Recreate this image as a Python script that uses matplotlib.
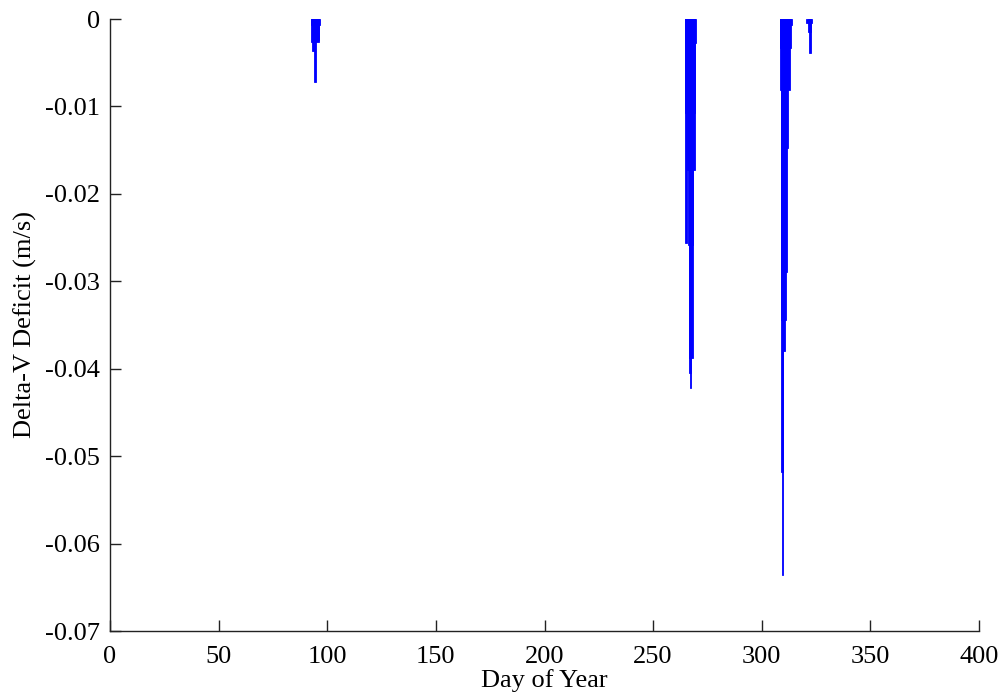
import matplotlib
matplotlib.use("Agg")
import matplotlib.pyplot as plt

# Envelope of the delta-V deficit spikes: (start day, end day, deficit m/s)
seg_start = [92.3, 92.3, 93.2, 94.0, 94.8,
             264.7, 264.7, 265.4, 264.9, 266.2, 266.4, 266.4, 266.8,
             308.3, 308.3, 308.3, 309.0, 309.0, 309.0, 309.5, 309.0, 309.4,
             320.3, 321.2, 321.9]
seg_end = [96.8, 96.0, 94.5, 94.8, 96.0,
           269.7, 269.1, 269.1, 265.6, 268.5, 268.2, 267.3, 267.6,
           314.1, 313.4, 312.9, 312.3, 311.5, 311.2, 310.8, 309.8, 309.8,
           323.3, 322.6, 322.6]
seg_value = [-0.0007, -0.0026, -0.0037, -0.0072, -0.0024,
             -0.0028, -0.0108, -0.0173, -0.0256, -0.0258, -0.0388, -0.0405, -0.0422,
             -0.0007, -0.0033, -0.0081, -0.0148, -0.0289, -0.0344, -0.0380, -0.0518, -0.0636,
             -0.0005, -0.0015, -0.0039]

x_ticks = [0, 50, 100, 150, 200, 250, 300, 350, 400]
y_ticks = [0, -0.01, -0.02, -0.03, -0.04, -0.05, -0.06, -0.07]
y_tick_labels = ["0", "-0.01", "-0.02", "-0.03", "-0.04", "-0.05", "-0.06", "-0.07"]

plt.rcParams['font.family'] = ['Liberation Serif', 'DejaVu Serif']

fig = plt.figure(figsize=(10.03, 6.96), dpi=100)
ax = fig.add_axes([110/1003, 1-631/696, (979-110)/1003, (631-19)/696])

widths = [e - s for s, e in zip(seg_start, seg_end)]
ax.bar(seg_start, seg_value, width=widths, align='edge', bottom=0,
       color='#0000ff', edgecolor='#0000ff', linewidth=0.6)

ax.set_xlim(0, 400)
ax.set_ylim(-0.07, 0)
ax.set_xticks(x_ticks)
ax.set_yticks(y_ticks)
ax.set_yticklabels(y_tick_labels)
ax.spines['top'].set_visible(False)
ax.spines['right'].set_visible(False)
for s in ['left', 'bottom']:
    ax.spines[s].set_linewidth(1.0)
    ax.spines[s].set_color('#222222')
ax.tick_params(direction='in', length=8, width=1.0, labelsize=19, colors='#222222')
ax.tick_params(axis='y', pad=7)
ax.tick_params(axis='x', pad=11)
for lab in ax.get_xticklabels() + ax.get_yticklabels():
    lab.set_color('black')
ax.set_xlabel("Day of Year", fontsize=19, labelpad=0.5)
ax.set_ylabel("Delta-V Deficit (m/s)", fontsize=19, labelpad=6)

fig.savefig("out.png", dpi=100)
